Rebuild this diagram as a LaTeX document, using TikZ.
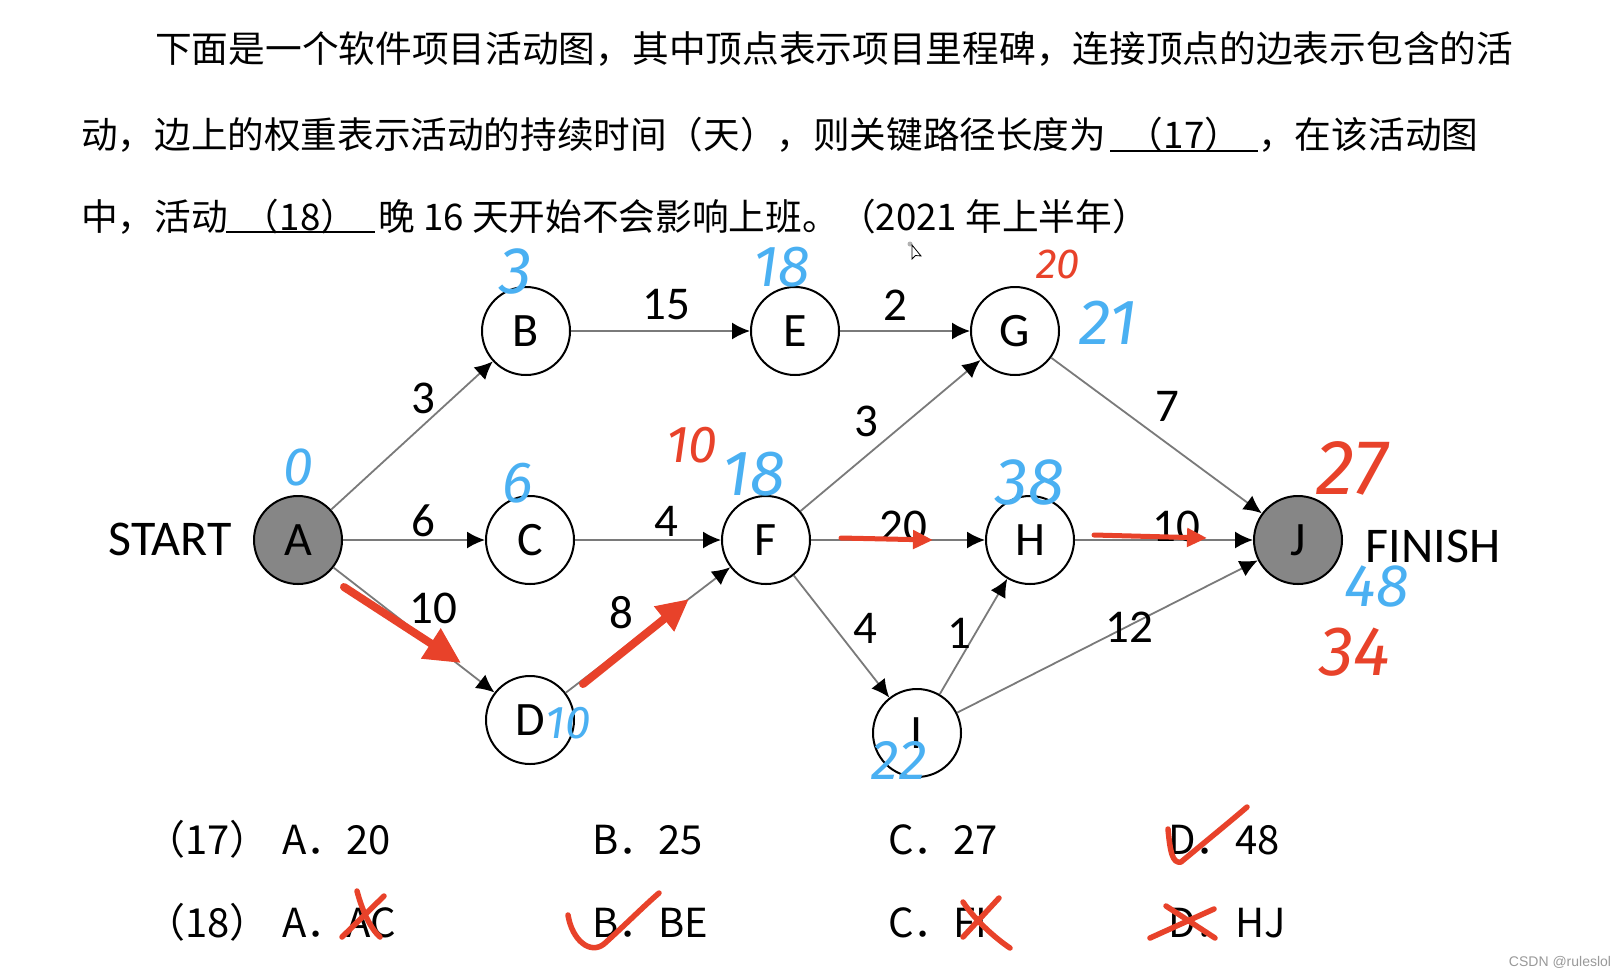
\documentclass[tikz,border=0pt]{standalone}
\usepackage{fontspec}
\setmainfont{Carlito}
\newfontfamily\cjk{Noto Sans CJK SC}
\newfontfamily\hand{Fira Sans}
\newfontfamily\wm{Liberation Sans}
\usetikzlibrary{arrows.meta}
\definecolor{hblue}{HTML}{4AB0F2}
\definecolor{hred}{HTML}{E8422A}
\definecolor{edgegray}{HTML}{7A7A7A}
\definecolor{nodegray}{HTML}{868686}
\begin{document}
\begin{tikzpicture}[x=1pt,y=-1pt,
  vtx/.style={circle, draw=black, line width=2pt, minimum size=88pt, inner sep=0pt, font=\fontsize{48}{48}\selectfont},
  endvtx/.style={vtx, fill=nodegray},
  edge/.style={draw=edgegray, line width=1.8pt, -{Latex[length=18pt,width=17pt,color=black]}},
  wlab/.style={font=\fontsize{47}{47}\selectfont, inner sep=0pt},
  sidelab/.style={font=\fontsize{50}{50}\selectfont, inner sep=0pt},
  qtext/.style={anchor=base west, inner sep=0pt, font=\cjk\fontsize{36.7}{40}\selectfont},
  opt/.style={anchor=base west, inner sep=0pt, font=\cjk\fontsize{40}{40}\selectfont},
  bnum/.style={text=hblue, inner sep=0pt},
  rnum/.style={text=hred, inner sep=0pt},
  hsize/.style={font=\hand\itshape\fontsize{#1}{#1}\selectfont},
  redarrow/.style={draw=hred, fill=hred, line cap=round},
  penstroke/.style={draw=hred, line width=5.5pt, line cap=round, line join=round},
  uline/.style={draw=black, line width=2pt}
]
\path[use as bounding box, fill=white] (0,0) rectangle (1624,978);

% ---- question text ----
\node[qtext] (q1) at (155,62) {下面是一个软件项目活动图，其中顶点表示项目里程碑，连接顶点的边表示包含的活};
\node[qtext, font=\cjk\fontsize{36.6}{40}\selectfont] (q2a) at (81,148) {动，边上的权重表示活动的持续时间（天），则关键路径长度为};
\node[qtext, anchor=base] (q2b) at (1184,148) {（17）};
\node[qtext] (q2c) at (1258,148) {，在该活动图};
\coordinate (u1a) at (1110,151); \coordinate (u1b) at (1258,151);
\draw[uline] (u1a) -- (u1b);
\node[qtext] (q3a) at (81,230) {中，活动};
\node[qtext, anchor=base] (q3b) at (300,230) {（18）};
\node[qtext] (q3c) at (378,230) {晚 16 天开始不会影响上班。（2021 年上半年）};
\coordinate (u2a) at (226,232); \coordinate (u2b) at (375,232);
\draw[uline] (u2a) -- (u2b);

% ---- graph ----
\node[endvtx] (A) at (298,540) {A};
\node[vtx] (B) at (526,331) {B};
\node[vtx] (E) at (795,331) {E};
\node[vtx] (G) at (1015,331) {G};
\node[vtx] (C) at (530,540) {C};
\node[vtx] (F) at (766,540) {F};
\node[vtx] (H) at (1030,540) {H};
\node[endvtx] (J) at (1298,540) {J};
\node[vtx] (D) at (530,720) {D};
\node[vtx] (I) at (917,733) {I};
\node[sidelab] (start) at (170,539) {START};
\node[sidelab] (finish) at (1433,546) {FINISH};

\draw[edge] (A) -- (B);
\draw[edge] (A) -- (C);
\draw[edge] (A) -- (D);
\draw[edge] (B) -- (E);
\draw[edge] (E) -- (G);
\draw[edge] (C) -- (F);
\draw[edge] (D) -- (F);
\draw[edge] (F) -- (G);
\draw[edge] (F) -- (H);
\draw[edge] (F) -- (I);
\draw[edge] (I) -- (H);
\draw[edge] (G) -- (J);
\draw[edge] (H) -- (J);
\draw[edge] (I) -- (J);

\node[wlab] (lAB) at (423,398) {3};
\node[wlab] (lAC) at (423,521) {6};
\node[wlab] (lAD) at (433,608) {10};
\node[wlab] (lBE) at (666,305) {15};
\node[wlab] (lEG) at (895,305) {2};
\node[wlab] (lCF) at (666,521) {4};
\node[wlab] (lDF) at (621,613) {8};
\node[wlab] (lFG) at (866,421) {3};
\node[wlab] (lFH) at (903,526) {20};
\node[wlab] (lGJ) at (1167,406) {7};
\node[wlab] (lHJ) at (1176,526) {10};
\node[wlab] (lFI) at (865,628) {4};
\node[wlab] (lIH) at (959,633) {1};
\node[wlab] (lIJ) at (1129,627) {12};

% ---- red critical path arrows ----
\coordinate (r1s) at (344,587); \coordinate (r1e) at (461,663);
\coordinate (r2s) at (583,684); \coordinate (r2e) at (689,599);
\coordinate (r3s) at (841,538); \coordinate (r3e) at (933,540);
\coordinate (r4s) at (1094,535); \coordinate (r4e) at (1207,538);
\draw[redarrow, line width=8pt, -{Triangle[length=36pt,width=34pt]}] (r1s) -- (r1e);
\draw[redarrow, line width=8pt, -{Triangle[length=32pt,width=30pt]}] (r2s) -- (r2e);
\draw[redarrow, line width=5pt, -{Triangle[length=20pt,width=18pt]}] (r3s) -- (r3e);
\draw[redarrow, line width=5pt, -{Triangle[length=20pt,width=18pt]}] (r4s) -- (r4e);

% ---- handwritten numbers ----
\node[bnum, hsize=54] (hA) at (298,467) {0};
\node[bnum, hsize=66] (hB) at (516,271) {3};
\node[bnum, hsize=58] (hC) at (518,483) {6};
\node[bnum, hsize=58] (hE) at (782,267) {18};
\node[bnum, hsize=64] (hG) at (1108,323) {21};
\node[bnum, hsize=64] (hF) at (754,474) {18};
\node[bnum, hsize=66] (hH) at (1030,482) {38};
\node[bnum, hsize=46] (hD) at (568,723) {10};
\node[bnum, hsize=56] (hI) at (899,760) {22};
\node[bnum, hsize=60] (hJ) at (1377,586) {48};
\node[rnum, hsize=42] (rG) at (1058,264) {20};
\node[rnum, hsize=52] (rF) at (692,445) {10};
\node[rnum, hsize=78] (rJ1) at (1352,468) {27};
\node[rnum, hsize=70] (rJ2) at (1355,652) {34};

% ---- options ----
\node[opt] (o17) at (145,854) {（17）};
\node[opt] (o17a) at (282,854) {A．20};
\node[opt] (o17b) at (592,854) {B．25};
\node[opt] (o17c) at (888,854) {C．27};
\node[opt] (o17d) at (1168,854) {D．48};
\node[opt] (o18) at (145,937) {（18）};
\node[opt] (o18a) at (282,937) {A．AC};
\node[opt] (o18b) at (592,937) {B．BE};
\node[opt] (o18c) at (888,937) {C．FI};
\node[opt] (o18d) at (1168,937) {D．HJ};

% ---- red marks ----
\draw[penstroke] (1168,829) .. controls (1170,850) and (1172,864) .. (1181,862) .. controls (1205,842) and (1232,820) .. (1247,807);
\draw[penstroke] (568,915) .. controls (572,940) and (590,955) .. (604,944) .. controls (625,925) and (645,905) .. (659,893);
\draw[penstroke] (357,891) .. controls (362,910) and (370,928) .. (380,937);
\draw[penstroke] (342,937) -- (384,896);
\draw[penstroke] (963,902) .. controls (975,920) and (995,938) .. (1010,948);
\draw[penstroke] (999,898) -- (963,937);
\draw[penstroke] (1166,906) -- (1215,938);
\draw[penstroke] (1150,938) -- (1214,909);

% ---- cursor and watermark ----
\fill[gray!60] (910,244) circle (2.5pt);
\draw[black, line width=0.8pt, fill=white] (912,245) -- (912,259) -- (915.5,255.5) -- (921,256) -- cycle;
\node[inner sep=0pt, text=gray!80, font=\wm\fontsize{14}{14}\selectfont] (wmk) at (1560,962) {CSDN @ruleslol};
\end{tikzpicture}
\end{document}
